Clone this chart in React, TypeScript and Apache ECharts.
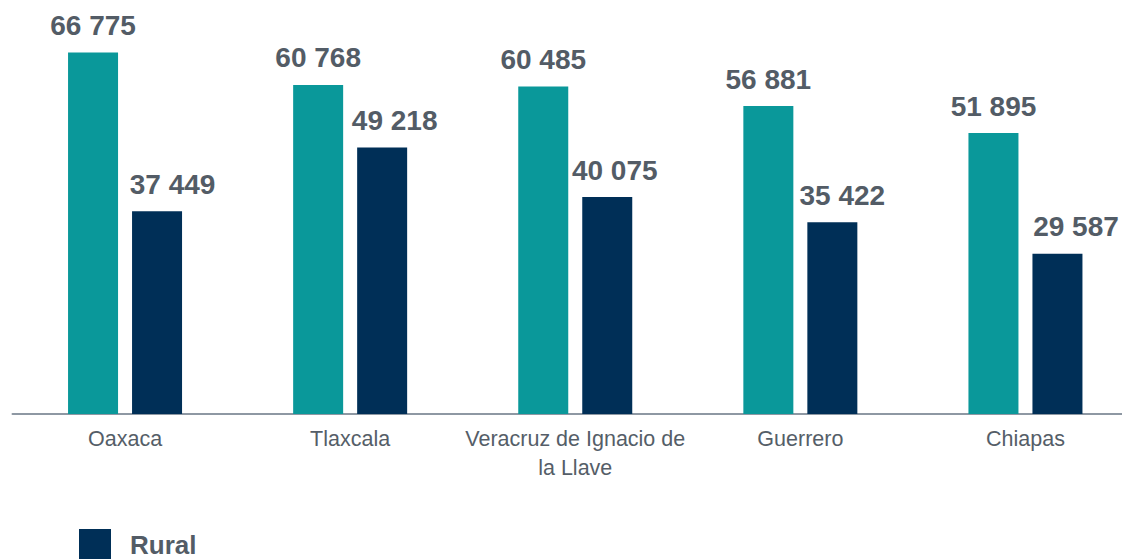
import React, { useEffect, useRef } from "react";
import * as echarts from "echarts";

const categories = [
  "Oaxaca",
  "Tlaxcala",
  "Veracruz de Ignacio de\nla Llave",
  "Guerrero",
  "Chiapas",
];
const urbanValues = [66775, 60768, 60485, 56881, 51895];
const ruralValues = [37449, 49218, 40075, 35422, 29587];
const legendItems = ["Rural"];

// horizontal nudges of the rural value labels, as in the reference layout
const ruralLabelNudge = [15.5, 12.5, 7.5, 10, 18.5];

const fmt = (v: number) => {
  const s = String(Math.round(v));
  return s.replace(/\B(?=(\d{3})+(?!\d))/g, " ");
};

const labelStyle = {
  show: true,
  position: "top" as const,
  distance: 13,
  fontFamily: "Liberation Sans, Arial, sans-serif",
  fontWeight: "bold" as const,
  fontSize: 28,
  color: "#535c66",
  formatter: (p: any) => fmt(p.value),
};

export default function App() {
  const ref = useRef<HTMLDivElement>(null);
  useEffect(() => {
    if (!ref.current) return;
    const chart = echarts.init(ref.current, undefined, { renderer: "svg" });
    chart.setOption({
      animation: false,
      backgroundColor: "#ffffff",
      grid: { left: 12.5, right: 0, top: 35, bottom: 145, containLabel: false },
      legend: {
        data: legendItems,
        left: 74,
        top: 524,
        itemWidth: 32,
        itemHeight: 32,
        icon: "rect",
        textStyle: {
          fontFamily: "Liberation Sans, Arial, sans-serif",
          fontWeight: "bold",
          fontSize: 26,
          color: "#535c66",
          padding: [0, 0, 0, 14],
        },
      },
      xAxis: {
        type: "category",
        data: categories,
        axisLine: { show: true, lineStyle: { color: "#8e98a3", width: 2 } },
        axisTick: { show: false },
        axisLabel: {
          margin: 10,
          fontFamily: "Liberation Sans, Arial, sans-serif",
          fontSize: 21.5,
          lineHeight: 29,
          color: "#555e68",
          interval: 0,
        },
      },
      yAxis: {
        type: "value",
        min: 0,
        max: 70000,
        show: false,
        splitLine: { show: false },
      },
      series: [
        {
          name: "Urbano",
          type: "bar",
          data: urbanValues,
          barWidth: 50,
          barGap: "28%",
          itemStyle: { color: "#0a989a" },
          label: labelStyle,
        },
        {
          name: "Rural",
          type: "bar",
          data: ruralValues.map((v, i) => ({
            value: v,
            label: { offset: [ruralLabelNudge[i], 0] },
          })),
          barWidth: 50,
          barGap: "28%",
          itemStyle: { color: "#002f57" },
          label: labelStyle,
        },
      ],
    });
    return () => chart.dispose();
  }, []);
  return (
    <div style={{ position: "fixed", left: 0, top: 0, width: 1122, height: 559, overflow: "hidden", background: "#fff" }}>
      <div ref={ref} style={{ position: "absolute", left: 0, top: 0, width: 1138, height: 559 }} />
    </div>
  );
}
